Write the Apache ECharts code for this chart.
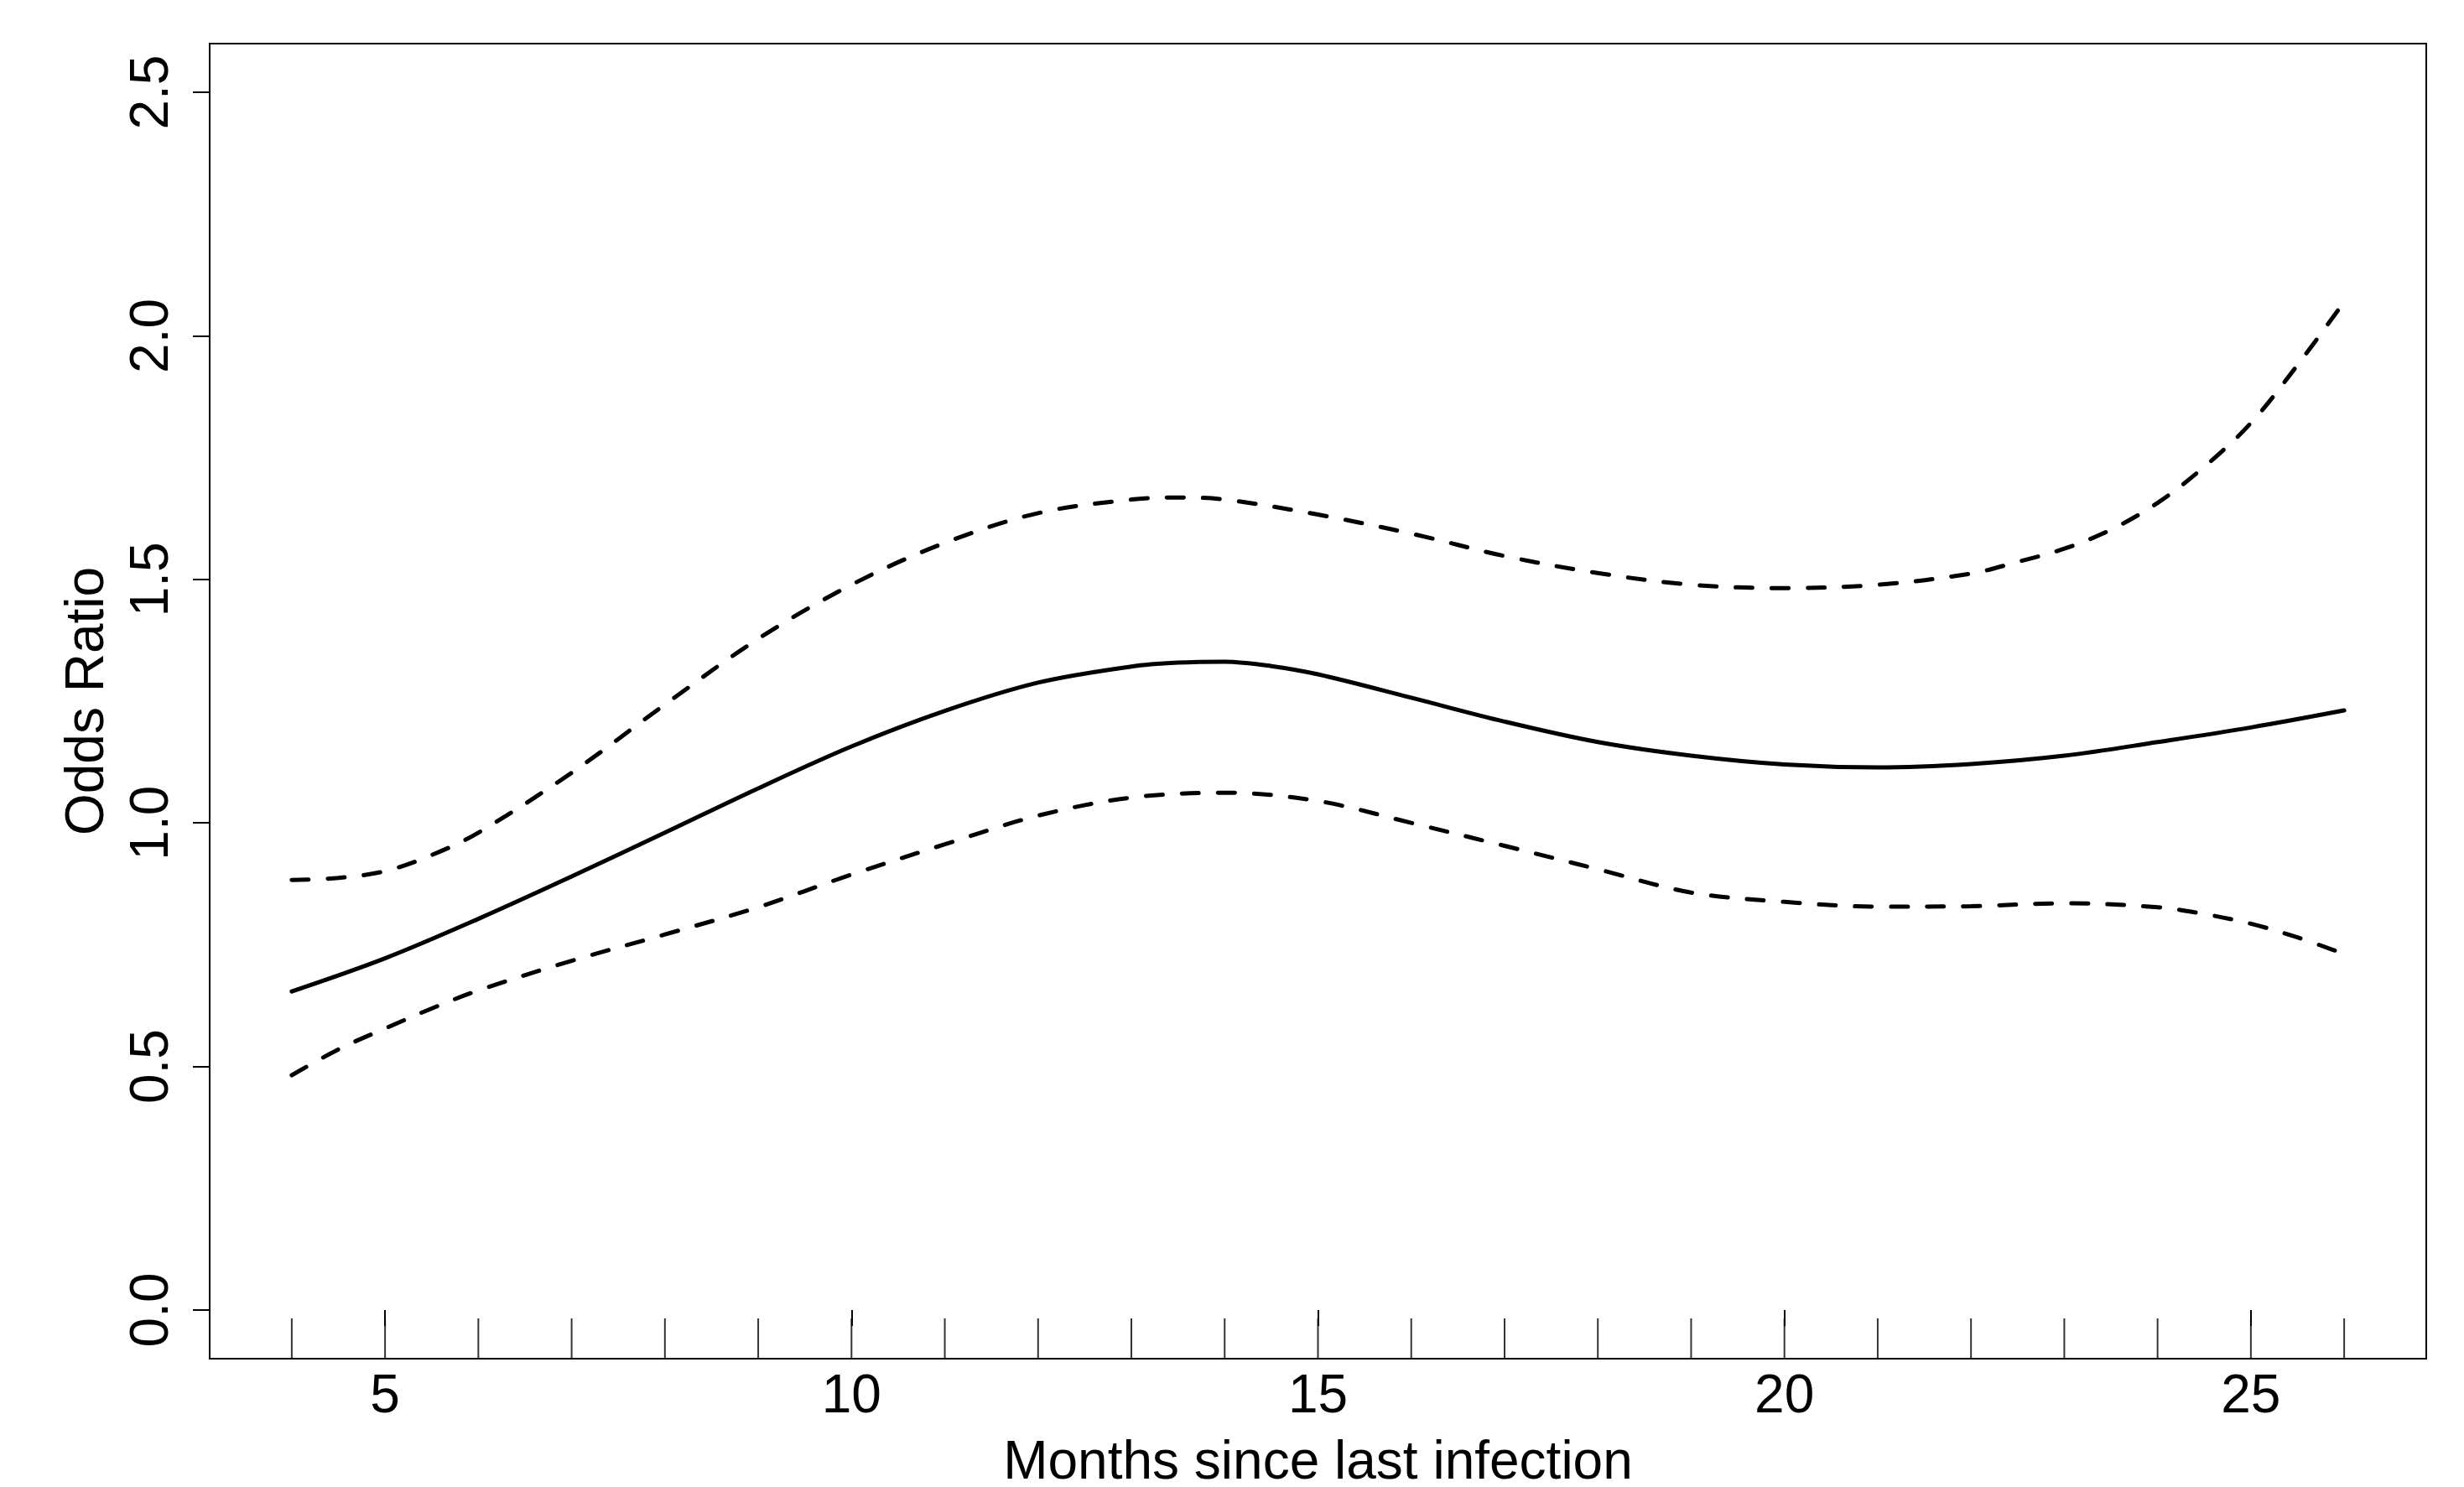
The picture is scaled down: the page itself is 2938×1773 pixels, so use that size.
<!DOCTYPE html>
<html>
<head>
<meta charset="utf-8">
<script src="https://cdn.jsdelivr.net/npm/echarts@6/dist/echarts.min.js"></script>
<style>
html,body{margin:0;padding:0;background:#fff;}
#chart{width:2938px;height:1773px;}
</style>
</head>
<body>
<div id="chart"></div>
<script>
// Estimated odds ratio (solid line): months and values
const orMonths = [4,5,6,7,8,9,10,11,12,13,13.5,14,14.5,15,16,17,18,19,20,21,22,23,24,25,26];
const oddsRatio = [0.654,0.722,0.803,0.890,0.980,1.071,1.157,1.230,1.288,1.321,1.329,1.331,1.322,1.305,1.257,1.208,1.166,1.138,1.120,1.114,1.121,1.138,1.166,1.196,1.231];
// Upper confidence limit (dashed)
const upperMonths = [4,4.5,5,5.5,6,7,8,9,10,11,12,13,13.5,14,15,16,17,18,19,20,21,22,22.5,23,23.5,24,24.5,25,25.5,26];
const upperCI = [0.883,0.887,0.901,0.934,0.980,1.103,1.243,1.378,1.489,1.575,1.636,1.664,1.668,1.664,1.633,1.594,1.548,1.513,1.489,1.482,1.489,1.512,1.536,1.563,1.602,1.657,1.731,1.821,1.940,2.070];
// Lower confidence limit (dashed)
const lowerMonths = [4,4.5,5,5.5,6,7,8,9,10,11,12,13,14,15,16,17,18,19,20,21,22,23,24,24.5,25,25.5,26];
const lowerCI = [0.482,0.535,0.578,0.619,0.656,0.717,0.771,0.827,0.894,0.956,1.015,1.052,1.062,1.045,1.000,0.953,0.905,0.857,0.838,0.828,0.829,0.835,0.827,0.813,0.793,0.765,0.731];
// Rug (observed months)
const rugMonths = [4,5,6,7,8,9,10,11,12,13,14,15,16,17,18,19,20,21,22,23,24,25,26];
// Tick labels
const xTicks = [5,10,15,20,25];
const yTicks = [0,0.5,1.0,1.5,2.0,2.5];

const xMin = 3.12, xMax = 26.88, yMin = -0.1, yMax = 2.6;
const FONT = 'Liberation Sans, Arial, sans-serif';
const SMOOTH = 0.34;

const pairs = (xs, ys) => xs.map((x, i) => [x, ys[i]]);

const chart = echarts.init(document.getElementById('chart'), null, {renderer: 'canvas'});
chart.setOption({
  animation: false,
  backgroundColor: '#ffffff',
  grid: {left: 250, right: 45, top: 52, bottom: 153, show: true, borderColor: '#000', borderWidth: 2,
    backgroundColor: 'transparent', containLabel: false, outerBoundsMode: 'none'},
  xAxis: {
    type: 'value', min: xMin, max: xMax,
    name: 'Months since last infection', nameLocation: 'middle', nameGap: 93,
    nameTextStyle: {fontFamily: FONT, fontSize: 64, color: '#000'},
    axisLine: {show: false},
    splitLine: {show: false},
    axisTick: {show: true, customValues: xTicks, length: 19, inside: false, lineStyle: {color: '#000', width: 2}},
    axisLabel: {customValues: xTicks, margin: 14, fontFamily: FONT, fontSize: 64, color: '#000'}
  },
  yAxis: {
    type: 'value', min: yMin, max: yMax,
    name: 'Odds Ratio', nameLocation: 'middle', nameGap: 113,
    nameTextStyle: {fontFamily: FONT, fontSize: 64, color: '#000'},
    axisLine: {show: false},
    splitLine: {show: false},
    axisTick: {show: true, customValues: yTicks, length: 20, inside: false, lineStyle: {color: '#000', width: 2}},
    axisLabel: {customValues: yTicks, rotate: 90, margin: 36, fontFamily: FONT, fontSize: 64, color: '#000',
      formatter: v => Number(v).toFixed(1)}
  },
  series: [
    {
      type: 'line', name: 'OR', data: pairs(orMonths, oddsRatio), smooth: SMOOTH, showSymbol: false,
      lineStyle: {color: '#000', width: 5, cap: 'round', join: 'round'}
    },
    {
      type: 'line', name: 'Upper', data: pairs(upperMonths, upperCI), smooth: SMOOTH, showSymbol: false,
      lineStyle: {color: '#000', width: 5, type: [20, 23], cap: 'round'}
    },
    {
      type: 'line', name: 'Lower', data: pairs(lowerMonths, lowerCI), smooth: SMOOTH, showSymbol: false,
      lineStyle: {color: '#000', width: 5, type: [20, 23], cap: 'round'}
    },
    {
      type: 'scatter', name: 'rug', data: rugMonths.map(m => [m, yMin]),
      symbol: 'rect', symbolSize: [2, 48], symbolOffset: [0, -24],
      itemStyle: {color: '#000'}, silent: true, clip: false
    }
  ]
});
</script>
</body>
</html>
